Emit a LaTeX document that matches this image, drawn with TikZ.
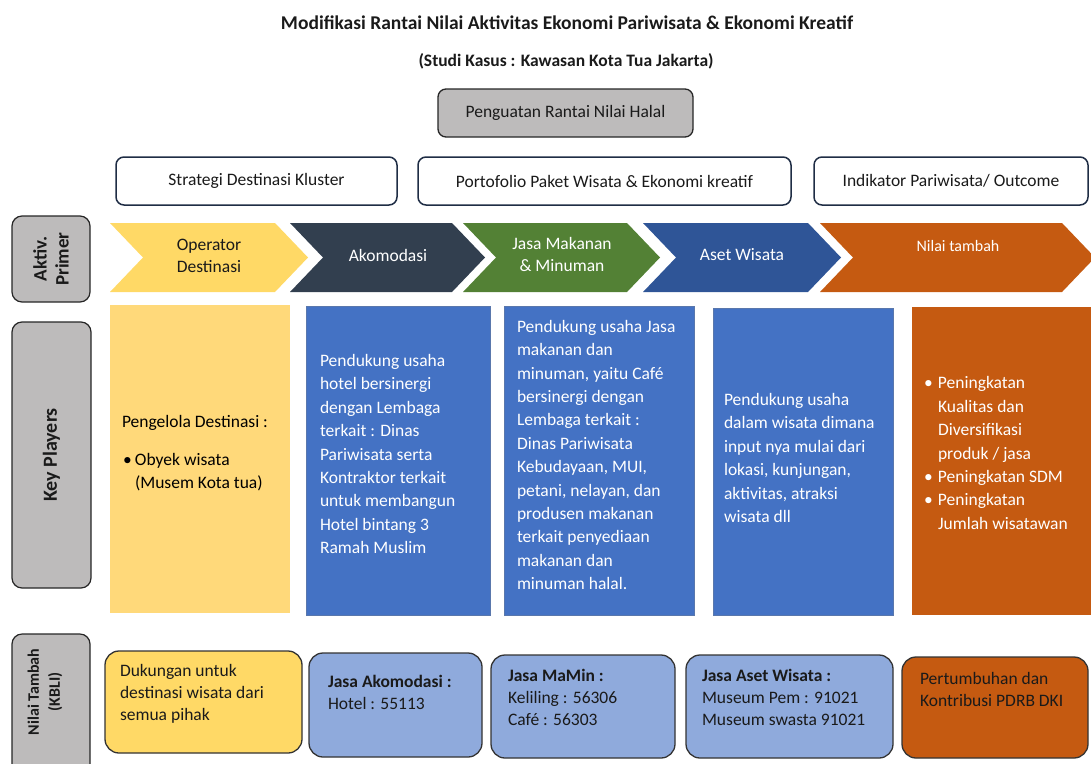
\documentclass[tikz,border=0pt]{standalone}
\usepackage{fontspec}
\setmainfont{Carlito}
\definecolor{labelgray}{HTML}{BDBBBB}
\definecolor{cyellow}{HTML}{FFD966}
\definecolor{cdark}{HTML}{323F4F}
\definecolor{cgreen}{HTML}{538135}
\definecolor{cblue}{HTML}{2F5597}
\definecolor{corange}{HTML}{C55A11}
\definecolor{kpblue}{HTML}{4472C4}
\definecolor{kpyellow}{HTML}{FFD97A}
\definecolor{botblue}{HTML}{8FAADC}
\definecolor{navyline}{HTML}{1F2D45}
\definecolor{darktext}{HTML}{1A1A1A}
\newcommand\mychev[3]{\fill[#3] (#1,223) -- (#2,223) -- (#2+33,257.5) -- (#2,292) -- (#1,292) -- (#1+33,257.5) -- cycle;}
\begin{document}
\begin{tikzpicture}[x=1pt,y=-1pt,
  every node/.style={inner sep=0pt, outer sep=0pt},
  fs/.style={font=\fontsize{17.5}{23.4}\selectfont},
  fsb/.style={font=\fontsize{17.5}{22}\selectfont},
  labelbox/.style={draw=black!85, line width=1.2pt, fill=labelgray, rounded corners=10pt},
  labeltext/.style={rotate=90, align=center, text=darktext},
  whitebox/.style={draw=navyline, line width=1.5pt, fill=white, rounded corners=8pt, fs, text=darktext},
  bluebox/.style={fill=kpblue, draw=cblue!80, line width=0.6pt},
  botbox/.style={draw=black!80, line width=1.3pt, rounded corners=14pt},
  chevtext/.style={fs, align=center, text=white},
  boxtext/.style={fs, align=left, anchor=west},
  bottext/.style={fsb, align=left, anchor=north west, text=darktext}]
\useasboundingbox (0,0) rectangle (1091,763);
\clip (0,0) rectangle (1091,763);

% titles
\node[font=\fontsize{19.5}{22}\selectfont\bfseries, text=darktext] (title) at (567,23) {Modifikasi Rantai Nilai Aktivitas Ekonomi Pariwisata \& Ekonomi Kreatif};
\node[font=\fontsize{17.5}{20}\selectfont\bfseries, text=darktext] (subtitle) at (566,61) {(Studi Kasus : Kawasan Kota Tua Jakarta)};
\node[draw=black!85, line width=1.3pt, fill=labelgray, rounded corners=8pt, minimum width=255pt, minimum height=48pt, fs, text=darktext] (halal) at (565.5,113) {Penguatan Rantai Nilai Halal};

% white strategy boxes
\node[whitebox, minimum width=281pt, minimum height=48pt] (strat) at (256.5,181) {Strategi Destinasi Kluster};
\node[whitebox, minimum width=373pt, minimum height=48pt] (porto) at (604.5,181) {Portofolio Paket Wisata \& Ekonomi kreatif};
\node[whitebox, minimum width=274pt, minimum height=48pt] (indik) at (951,181) {Indikator Pariwisata/ Outcome};

% left labels
\node[labelbox, minimum width=78pt, minimum height=86pt] (aktiv) at (51,259) {};
\node[labeltext, font=\fontsize{19}{22}\selectfont\bfseries] (aktivt) at (aktiv.center) {Aktiv.\\Primer};
\node[labelbox, minimum width=79pt, minimum height=266pt] (keyp) at (51.5,455) {};
\node[labeltext, font=\fontsize{20}{22}\selectfont\bfseries] (keypt) at (keyp.center) {Key Players};
\node[labelbox, minimum width=78pt, minimum height=156pt] (nilai) at (51,712) {};
\node[labeltext, font=\fontsize{16}{21}\selectfont\bfseries] (nilait) at (45,692) {Nilai Tambah\\(KBLI)};

% chevrons
\mychev{110}{275}{cyellow}
\mychev{290}{452}{cdark}
\mychev{463}{627}{cgreen}
\mychev{643}{808}{cblue}
\mychev{820}{1062}{corange}
\node[chevtext, text=darktext, font=\fontsize{17.5}{22}\selectfont] (c1) at (209,256) {Operator\\Destinasi};
\node[chevtext] (c2) at (388,255) {Akomodasi};
\node[chevtext, font=\fontsize{17.5}{22}\selectfont] (c3) at (562,254) {Jasa Makanan\\\& Minuman};
\node[chevtext] (c4) at (742,255) {Aset Wisata};
\node[chevtext, font=\fontsize{16}{20}\selectfont] (c5) at (958,246) {Nilai tambah};

% key players boxes
\node[fill=kpyellow, minimum width=180pt, minimum height=308pt] (kp1) at (200,459) {};
\node[bluebox, minimum width=184pt, minimum height=309pt] (kp2) at (398,460.5) {};
\node[bluebox, minimum width=190pt, minimum height=309pt] (kp3) at (599,460.5) {};
\node[bluebox, minimum width=180pt, minimum height=307pt] (kp4) at (803,461.5) {};
\node[fill=corange, minimum width=180pt, minimum height=308pt] (kp5) at (1002,461) {};

\node[boxtext, text=black] (kp1a) at (122,423) {Pengelola Destinasi :};
\node[boxtext, text=black] (kp1b) at (123,472) {\makebox[12pt][l]{\textbullet}Obyek wisata\\\hspace*{12pt}(Musem Kota tua)};
\node[boxtext, text=white] (kp2t) at (320,454) {Pendukung usaha\\hotel bersinergi\\dengan Lembaga\\terkait : Dinas\\Pariwisata serta\\Kontraktor terkait\\untuk membangun\\Hotel bintang 3\\Ramah Muslim};
\node[boxtext, text=white] (kp3t) at (517,455) {Pendukung usaha Jasa\\makanan dan\\minuman, yaitu Café\\bersinergi dengan\\Lembaga terkait :\\Dinas Pariwisata\\Kebudayaan, MUI,\\petani, nelayan, dan\\produsen makanan\\terkait penyediaan\\makanan dan\\minuman halal.};
\node[boxtext, text=white] (kp4t) at (724,458) {Pendukung usaha\\dalam wisata dimana\\input nya mulai dari\\lokasi, kunjungan,\\aktivitas, atraksi\\wisata dll};
\node[boxtext, text=white] (kp5t) at (924,453) {\makebox[14pt][l]{\textbullet}Peningkatan\\\hspace*{14pt}Kualitas dan\\\hspace*{14pt}Diversifikasi\\\hspace*{14pt}produk / jasa\\\makebox[14pt][l]{\textbullet}Peningkatan SDM\\\makebox[14pt][l]{\textbullet}Peningkatan\\\hspace*{14pt}Jumlah wisatawan};

% bottom row
\node[botbox, fill=cyellow, minimum width=197pt, minimum height=102pt] (b1) at (203.5,702) {};
\node[botbox, fill=botblue, minimum width=173pt, minimum height=104pt] (b2) at (395.5,705) {};
\node[botbox, fill=botblue, minimum width=184pt, minimum height=103pt] (b3) at (583,706.5) {};
\node[botbox, fill=botblue, minimum width=207pt, minimum height=103pt] (b4) at (789.5,706.5) {};
\node[botbox, fill=corange, minimum width=186pt, minimum height=101pt] (b5) at (995,707.5) {};

\node[bottext] (b1t) at (120,664.5) {Dukungan untuk\\destinasi wisata dari\\semua pihak};
\node[bottext] (b2t) at (328,675.5) {\textbf{Jasa Akomodasi :}\\Hotel : 55113};
\node[bottext] (b3t) at (508,669.5) {\textbf{Jasa MaMin :}\\Keliling : 56306\\Café : 56303};
\node[bottext] (b4t) at (702,669.5) {\textbf{Jasa Aset Wisata :}\\Museum Pem : 91021\\Museum swasta 91021};
\node[bottext] (b5t) at (920,672.5) {Pertumbuhan dan\\Kontribusi PDRB DKI};
\end{tikzpicture}
\end{document}
